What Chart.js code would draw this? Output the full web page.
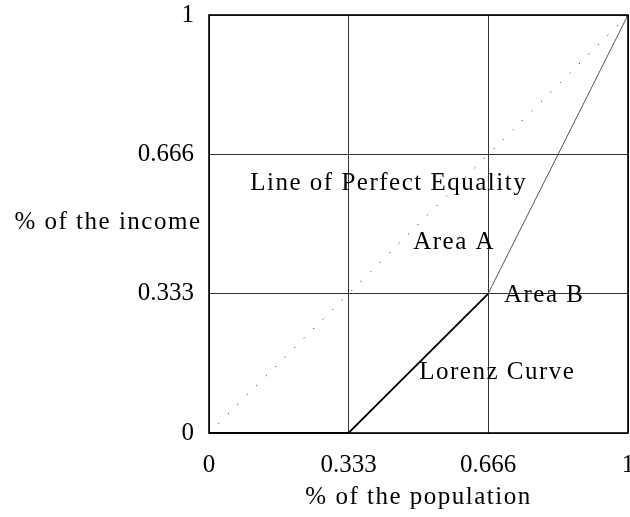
<!DOCTYPE html>
<html>
<head>
<meta charset="utf-8">
<script src="https://cdn.jsdelivr.net/npm/chart.js@4"></script>
<style>
html,body{margin:0;padding:0;background:#fff;}
#wrap{width:630px;height:517px;}
</style>
</head>
<body>
<div id="wrap"><canvas id="c" width="630" height="517"></canvas></div>
<script>
// Data
const tickValues = [0, 0.333, 0.666, 1];
const tickLabels = ['0', '0.333', '0.666', '1'];
const equalityX = [0, 1];
const equalityY = [0, 1];
const lorenzX = [0, 0.333, 0.666, 1];
const lorenzY = [0, 0, 0.333, 1];
const annotationTexts = ['Line of Perfect Equality', 'Area A', 'Area B', 'Lorenz Curve'];
const annotationX = [0.429, 0.585, 0.80, 0.688];
const annotationY = [0.598, 0.457, 0.328, 0.144];
const xTitle = '% of the population';
const yTitle = '% of the income';

const FONT = '"Liberation Serif", "DejaVu Serif", serif';
const FSIZE = 25;

const toPts = (xs, ys) => xs.map((x, i) => ({x: x, y: ys[i]}));

const textPlugin = {
  id: 'texts',
  afterDatasetsDraw(chart) {
    const ctx = chart.ctx;
    const xs = chart.scales.x, ys = chart.scales.y;
    ctx.save();
    ctx.fillStyle = '#000';
    ctx.font = FSIZE + 'px ' + FONT;
    try { ctx.letterSpacing = '1.5px'; } catch (e) {}
    ctx.textAlign = 'center';
    ctx.textBaseline = 'middle';
    annotationTexts.forEach((t, i) => {
      ctx.fillText(t, xs.getPixelForValue(annotationX[i]), ys.getPixelForValue(annotationY[i]));
    });
    // axis titles
    ctx.fillText(xTitle, (chart.chartArea.left + chart.chartArea.right) / 2, 497);
    ctx.textAlign = 'right';
    ctx.fillText(yTitle, 201.5, 222);
    ctx.restore();
  }
};

const frame = {
  id: 'frame',
  afterDatasetsDraw(chart) {
    const a = chart.chartArea, ctx = chart.ctx;
    ctx.save();
    ctx.strokeStyle = '#000';
    ctx.lineWidth = 1.6;
    ctx.strokeRect(a.left, a.top, a.right - a.left, a.bottom - a.top);
    ctx.restore();
  }
};

new Chart(document.getElementById('c'), {
  type: 'scatter',
  data: {
    datasets: [
      {
        data: toPts(equalityX, equalityY),
        showLine: true,
        borderColor: '#000',
        borderWidth: 1,
        borderDash: [1, 12.4],
        pointRadius: 0,
        fill: false
      },
      {
        data: toPts(lorenzX, lorenzY),
        showLine: true,
        borderColor: '#000',
        borderWidth: 1.8,
        pointRadius: 0,
        fill: false,
        segment: {
          borderWidth: c => c.p1DataIndex === 3 ? 1 : 1.8,
          borderColor: c => c.p1DataIndex === 3 ? '#555' : '#000'
        }
      }
    ]
  },
  options: {
    responsive: false,
    animation: false,
    devicePixelRatio: 1,
    layout: { padding: { left: 0, right: 2, top: 5, bottom: 0 } },
    plugins: { legend: { display: false }, tooltip: { enabled: false } },
    scales: {
      x: {
        type: 'linear', min: 0, max: 1,
        afterBuildTicks: s => { s.ticks = tickValues.map(v => ({value: v})); },
        afterFit: s => { s.paddingRight = 0; s.paddingLeft = 0; s.height = 84; },
        ticks: {
          autoSkip: false, maxRotation: 0, padding: 17,
          color: '#000', font: { family: FONT, size: FSIZE },
          callback: (v) => { const i = tickValues.indexOf(v); return i >= 0 ? tickLabels[i] : ''; }
        },
        grid: { color: '#333', lineWidth: 1, drawTicks: false },
        border: { display: false }
      },
      y: {
        type: 'linear', min: 0, max: 1,
        afterBuildTicks: s => { s.ticks = tickValues.map(v => ({value: v})); },
        afterFit: s => { s.width = 209; s.paddingTop = 15; s.paddingBottom = 0; },
        ticks: {
          autoSkip: false, padding: 15,
          color: '#000', font: { family: FONT, size: FSIZE },
          callback: (v) => { const i = tickValues.indexOf(v); return i >= 0 ? tickLabels[i] : ''; }
        },
        grid: { color: '#333', lineWidth: 1, drawTicks: false },
        border: { display: false }
      }
    }
  },
  plugins: [textPlugin, frame]
});
</script>
</body>
</html>
